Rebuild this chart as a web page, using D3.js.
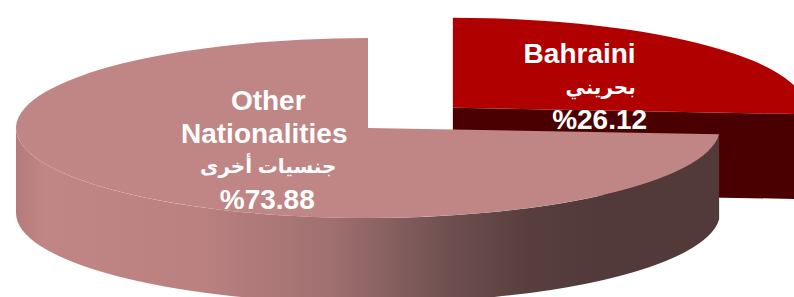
<!DOCTYPE html>
<html>
<head>
<meta charset="utf-8">
<script src="https://cdn.jsdelivr.net/npm/d3@7"></script>
<style>
  html, body { margin: 0; padding: 0; background: #fff; }
  svg { display: block; }
  .lbl { font-family: "Liberation Sans", Arial, "DejaVu Sans", sans-serif; font-weight: bold; fill: #fff; }
</style>
</head>
<body>
<div class="pie3d"></div>
<script>
// chart values
const categories = ["Bahraini", "Other Nationalities"];
const labelLinesEn = [["Bahraini"], ["Other", "Nationalities"]];
const labelLinesAr = ["بحريني", "جنسيات أخرى"];
const shares = [26.12, 73.88];

const W = 794, H = 297;
const cx = 368, cy = 128;      // centre of the main pie top face
const rx = 352, ry = 90;       // ellipse radii of the top face
const depth = 85;              // thickness of the pie
const explode = 116;           // how far the first slice is pulled out

const topColors = ["#b00000", "#c08585"];
const sideColors = ["#4a0000", "url(#sideGrad)"];
const cutColors = ["#4a0000", "#6a4a4a"];

// small nudges so the labels sit where they do in the original
const labelNudge = [[13, 9], [28, -9]];
const lineDx = [[-15, 6, 5], [1, -3, 1, 0]];
const lineDy = [[0, -2, 0], [0, 0, -3, 0]];

const svg = d3.select('.pie3d').append('svg')
  .attr('width', W)
  .attr('height', H);

const defs = svg.append('defs');
const grad = defs.append('linearGradient')
  .attr('id', 'sideGrad')
  .attr('gradientUnits', 'userSpaceOnUse')
  .attr('x1', cx - rx).attr('x2', cx + rx)
  .attr('y1', 0).attr('y2', 0);
[[0, '#b57b7b'], [0.04, '#c08585'], [0.26, '#bb8181'], [0.45, '#a06f6f'],
 [0.52, '#8a6262'], [0.62, '#6e4e4e'], [0.73, '#583e3e'], [0.83, '#523a3a'], [1, '#523a3a']]
  .forEach(s => grad.append('stop').attr('offset', s[0]).attr('stop-color', s[1]));

const pie = d3.pie().sort(null).value(d => d);
const arcs = pie(shares);

const arc = d3.arc().innerRadius(0).outerRadius(rx);

function pt(a, ox, oy, dz) {
  return [ox + rx * Math.sin(a), oy - ry * Math.cos(a) + (dz || 0)];
}

arcs.forEach((d, i) => {
  const mid = (d.startAngle + d.endAngle) / 2;
  const e = i === 0 ? explode : 0;
  d.ox = cx + e * Math.sin(mid);
  d.oy = cy - e * (ry / rx) * Math.cos(mid);
  d.mid = mid;
  d.i = i;
});

// back slices first
const order = arcs.slice().sort((a, b) => Math.cos(b.mid) - Math.cos(a.mid));

order.forEach(d => {
  const g = svg.append('g');
  const i = d.i;

  // radial cut faces that face the viewer
  const faces = [];
  if (Math.sin(d.endAngle) > 1e-6) faces.push(d.endAngle);
  if (Math.sin(d.startAngle) < -1e-6) faces.push(d.startAngle);
  faces.forEach(a => {
    const p = pt(a, d.ox, d.oy);
    g.append('path')
      .attr('d', `M${d.ox},${d.oy}L${p[0]},${p[1]}L${p[0]},${p[1] + depth}L${d.ox},${d.oy + depth}Z`)
      .attr('fill', cutColors[i]);
  });

  // outer wall, front half only
  const s = Math.max(d.startAngle, Math.PI / 2);
  const t = Math.min(d.endAngle, 3 * Math.PI / 2);
  if (t > s) {
    const p0 = pt(s, d.ox, d.oy), p1 = pt(t, d.ox, d.oy);
    const large = (t - s) > Math.PI ? 1 : 0;
    g.append('path')
      .attr('d', `M${p0[0]},${p0[1]}A${rx},${ry} 0 ${large} 1 ${p1[0]},${p1[1]}` +
                 `L${p1[0]},${p1[1] + depth}A${rx},${ry} 0 ${large} 0 ${p0[0]},${p0[1] + depth}Z`)
      .attr('fill', sideColors[i]);
  }

  // top face
  g.append('path')
    .attr('transform', `translate(${d.ox},${d.oy}) scale(1,${ry / rx})`)
    .attr('d', arc(d))
    .attr('fill', topColors[i]);
});

// labels
arcs.forEach((d, i) => {
  const c = arc.centroid(d);
  const lx = d.ox + c[0] + labelNudge[i][0];
  const ly = d.oy + c[1] * (ry / rx) + labelNudge[i][1];
  const lines = labelLinesEn[i].concat([labelLinesAr[i], '%' + shares[i].toFixed(2)]);
  const arIdx = lines.length - 2;
  const lh = 33;
  const txt = svg.append('text')
    .attr('class', 'lbl')
    .attr('text-anchor', 'middle')
    .attr('font-size', 28);
  lines.forEach((ln, k) => {
    txt.append('tspan')
      .attr('x', lx + lineDx[i][k])
      .attr('y', ly + (k - (lines.length - 1) / 2) * lh + 10 + lineDy[i][k])
      .attr('font-size', k === arIdx ? 20 : 28)
      .attr('direction', k === arIdx ? 'rtl' : 'ltr')
      .attr('unicode-bidi', 'embed')
      .text(ln);
  });
});
</script>
</body>
</html>
